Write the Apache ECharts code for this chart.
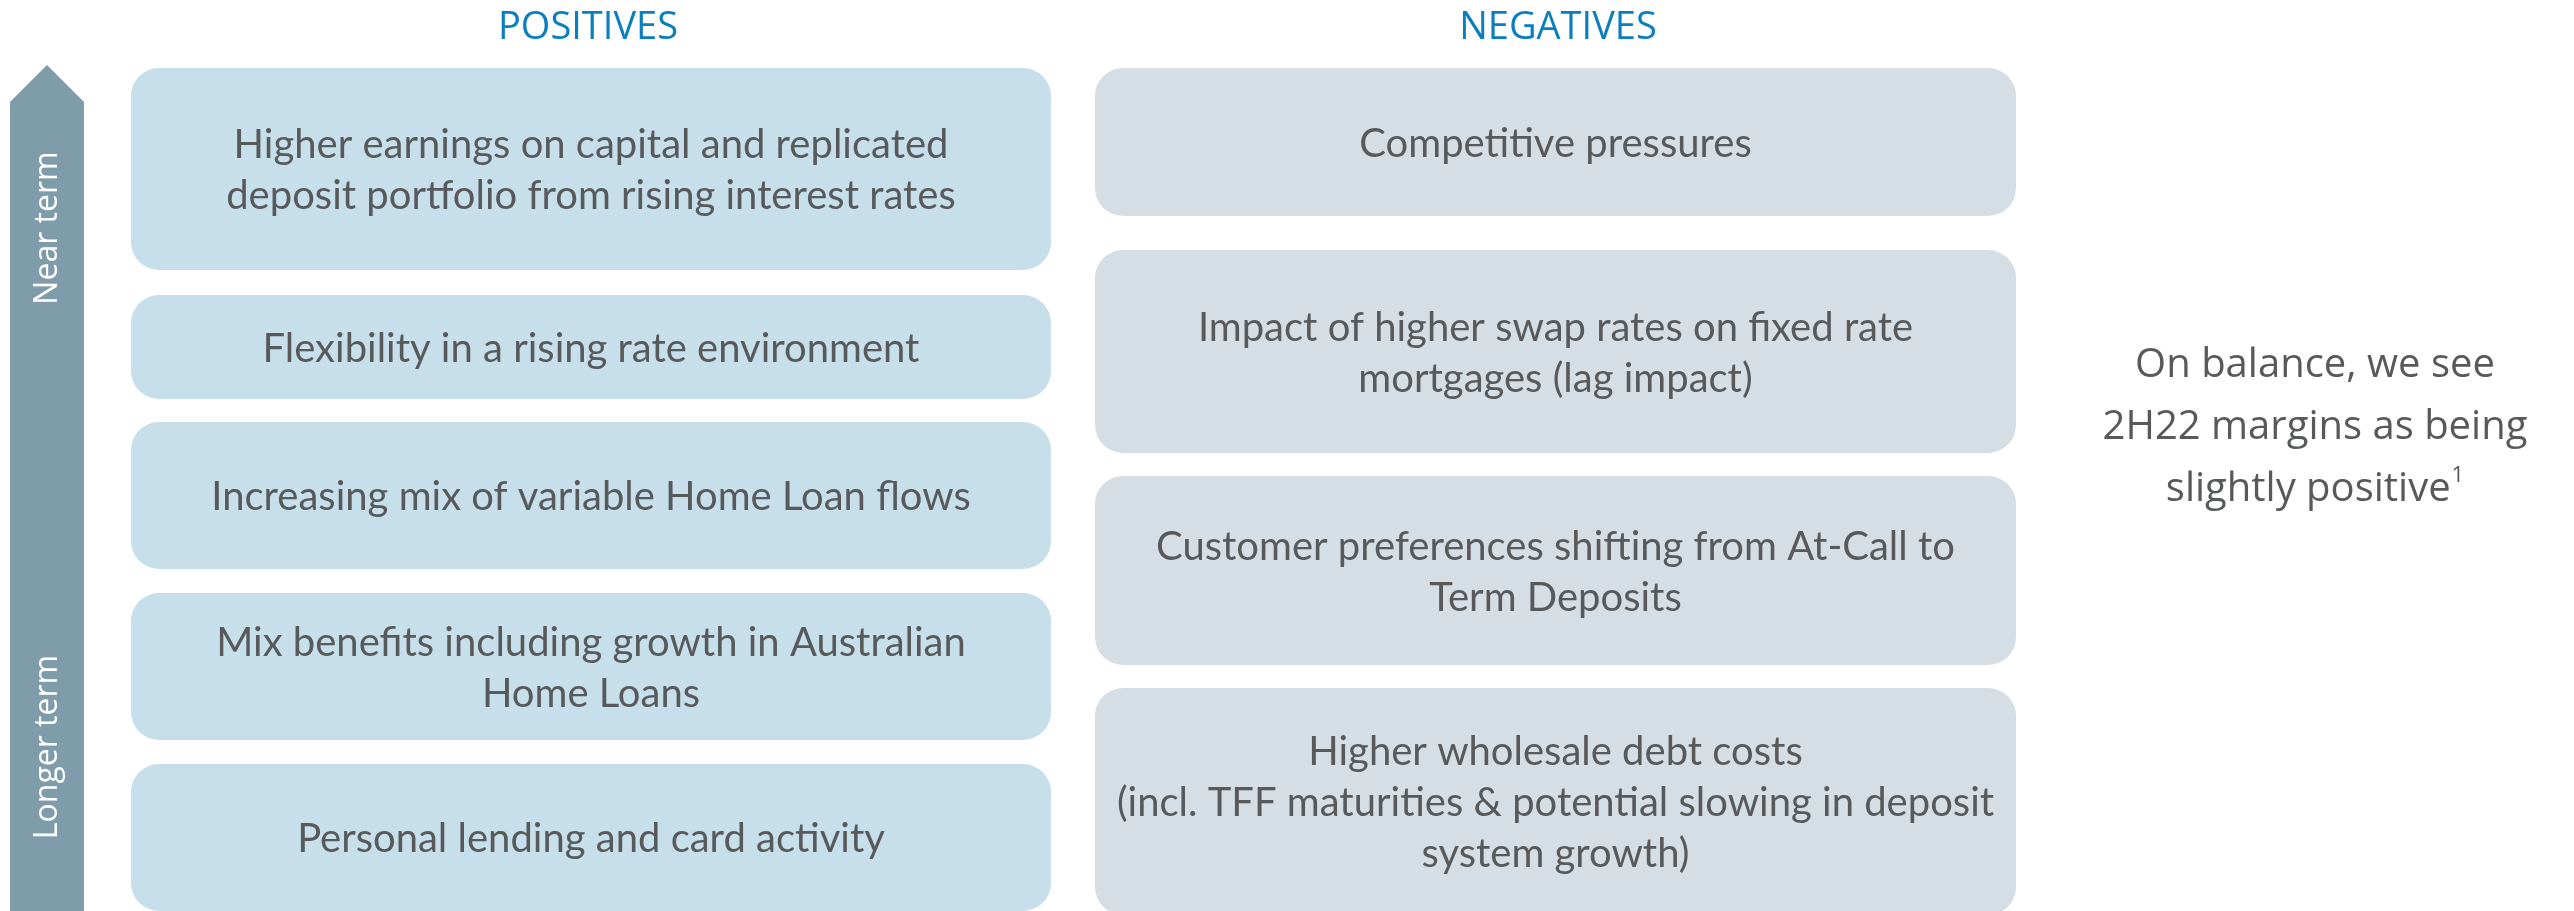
<!DOCTYPE html>
<html>
<head>
<meta charset="utf-8">
<script src="https://cdn.jsdelivr.net/npm/echarts@6/dist/echarts.min.js"></script>
<style>
  html, body { margin: 0; padding: 0; background: #fff; }
  #main { width: 2574px; height: 911px; }
</style>
</head>
<body>
<div id="main"></div>
<script>
var chartDom = document.getElementById('main');
var myChart = echarts.init(chartDom);

// column headers
var headers = ['POSITIVES', 'NEGATIVES'];

// boxes, top to bottom (near term -> longer term)
var positives = [
  'Higher earnings on capital and replicated\ndeposit portfolio from rising interest rates',
  'Flexibility in a rising rate environment',
  'Increasing mix of variable Home Loan flows',
  'Mix benefits including growth in Australian\nHome Loans',
  'Personal lending and card activity'
];
// extent of each box along the term axis (start, end)
var positiveStart = [68, 295, 422, 593, 764];
var positiveEnd = [270, 399, 569, 740, 911];

var negatives = [
  'Competitive pressures',
  'Impact of higher swap rates on fixed rate\nmortgages (lag impact)',
  'Customer preferences shifting from At-Call to\nTerm Deposits',
  'Higher wholesale debt costs\n(incl. TFF maturities & potential slowing in deposit\nsystem growth)'
];
var negativeStart = [68, 250, 476, 688];
var negativeEnd = [216, 453, 665, 915];

// term arrow: tip, shoulder, base
var arrowTerm = [65, 102, 911];
var termLabels = ['Near term', 'Longer term'];
var termLabelAt = [228, 747];

var summary = ['On balance, we see', '2H22 margins as being', 'slightly positive'];

// layout (pixel columns)
var posCol = [131, 1051];
var negCol = [1095, 2016];
var arrowCol = [10, 84];

function boxSeries(name, texts, starts, ends, col, color) {
  return {
    type: 'custom',
    name: name,
    coordinateSystem: 'cartesian2d',
    data: texts.map(function (t, i) { return [starts[i], ends[i], t]; }),
    renderItem: function (params, api) {
      var p0 = api.coord([col[0], api.value(0)]);
      var p1 = api.coord([col[1], api.value(1)]);
      var txt = texts[params.dataIndex];
      return {
        type: 'group',
        children: [{
          type: 'rect',
          shape: { x: p0[0], y: p0[1], width: p1[0] - p0[0], height: p1[1] - p0[1], r: 28 },
          style: { fill: color }
        }, {
          type: 'text',
          x: (p0[0] + p1[0]) / 2,
          y: (p0[1] + p1[1]) / 2 + 2,
          style: {
            text: txt,
            align: 'center',
            verticalAlign: 'middle',
            fill: '#58595b',
            font: '40px Lato',
            lineHeight: 51
          }
        }]
      };
    }
  };
}

var option = {
  backgroundColor: '#ffffff',
  animation: false,
  title: [{
    text: headers[0],
    left: 588, top: 8, padding: 0, textAlign: 'center',
    textStyle: { fontFamily: 'Open Sans', fontWeight: 'normal', fontSize: 38, lineHeight: 40, color: '#0a7fc0' }
  }, {
    text: headers[1],
    left: 1558, top: 8, padding: 0, textAlign: 'center',
    textStyle: { fontFamily: 'Open Sans', fontWeight: 'normal', fontSize: 38, lineHeight: 40, color: '#0a7fc0' }
  }, {
    text: '{a|' + summary[0] + '}\n{a|' + summary[1] + '}\n{a|' + summary[2] + '}{s|1}',
    left: 2315, top: 335, padding: 0, textAlign: 'center',
    textStyle: {
      fontWeight: 'normal',
      rich: {
        a: { fontFamily: 'Open Sans', fontWeight: 'normal', fontSize: 40, lineHeight: 62, color: '#58595b' },
        s: { fontFamily: 'Open Sans', fontWeight: 'normal', fontSize: 22, lineHeight: 22, color: '#58595b', verticalAlign: 'top', padding: [6, 0, 0, 1] }
      }
    }
  }],
  grid: { left: 0, right: 0, top: 0, bottom: 0 },
  xAxis: { type: 'value', min: 0, max: 2574, show: false },
  yAxis: { type: 'value', min: 0, max: 911, inverse: true, show: false },
  series: [
    {
      type: 'custom',
      name: 'term',
      data: [arrowTerm],
      renderItem: function (params, api) {
        var tip = api.coord([(arrowCol[0] + arrowCol[1]) / 2, api.value(0)]);
        var sl = api.coord([arrowCol[0], api.value(1)]);
        var sr = api.coord([arrowCol[1], api.value(1)]);
        var bl = api.coord([arrowCol[0], api.value(2)]);
        var br = api.coord([arrowCol[1], api.value(2)]);
        var children = [{
          type: 'polygon',
          shape: { points: [tip, sr, br, bl, sl] },
          style: { fill: '#7f9caa' }
        }];
        termLabels.forEach(function (l, i) {
          var c = api.coord([(arrowCol[0] + arrowCol[1]) / 2, termLabelAt[i]]);
          children.push({
            type: 'text',
            x: c[0] + 1, y: c[1],
            rotation: Math.PI / 2,
            style: { text: l, align: 'center', verticalAlign: 'middle', fill: '#ffffff', font: '32px "Open Sans"' }
          });
        });
        return { type: 'group', children: children };
      }
    },
    boxSeries('Positives', positives, positiveStart, positiveEnd, posCol, '#c6dfea'),
    boxSeries('Negatives', negatives, negativeStart, negativeEnd, negCol, '#d5dee4')
  ]
};
myChart.setOption(option);
</script>
</body>
</html>
